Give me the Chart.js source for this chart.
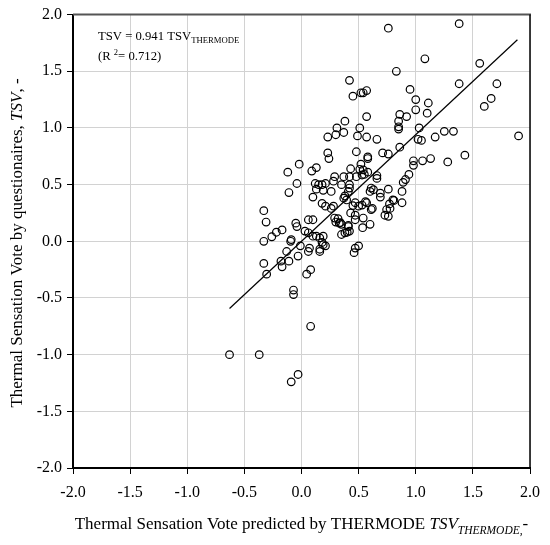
<!DOCTYPE html>
<html>
<head>
<meta charset="utf-8">
<script src="https://cdn.jsdelivr.net/npm/chart.js@4"></script>
<style>
  html, body { margin: 0; padding: 0; background: #fff; }
</style>
</head>
<body>
<canvas id="tsvChart" width="550" height="545"></canvas>
<script>
// predicted (x) and questionnaire (y) thermal sensation votes
const tsvPredicted = [
  0.76, 1.38, 1.08, 0.83, 1.56, 0.42, 1.38, 1.71, 1.66, 1.60, 1.90, 0.95, 1.00, 1.11, 1.00, 1.10,
  0.86, 0.92, 0.85, 0.85, 0.85, 1.03, 0.45, 0.52, 0.54, 0.57, 0.57, 0.38, 0.31, 0.37, 0.30, 0.23,
  0.51, 0.49, 0.57, 0.66, 0.86, 1.02, 1.05, 1.17, 1.25, 1.33, 0.48, 0.23, 0.24, 0.58, 0.58, 0.71,
  0.76, 0.98, 0.98, 1.06, 1.13, 1.28, 1.43, -0.02, -0.12, 0.09, 0.13, 0.52, 0.43, 0.54, 0.58, 0.55,
  0.66, 0.94, 0.89, 0.91, -0.04, 0.12, 0.15, 0.18, 0.21, 0.13, 0.19, 0.26, 0.10, 0.28, 0.29, 0.37,
  0.42, 0.35, 0.42, 0.42, 0.41, 0.48, 0.53, 0.51, 0.61, 0.60, 0.63, 0.69, 0.69, 0.66, 0.76, 0.80,
  0.77, 0.745, 0.76, 0.395, 0.37, 0.38, 0.56, 0.53, 0.47, 0.50, 0.45, 0.61, 0.18, 0.21, 0.26, 0.28,
  0.29, 0.32, 0.34, 0.35, 0.41, 0.43, 0.47, 0.54, 0.535, 0.60, 0.35, 0.38, 0.06, 0.10, -0.05, -0.04,
  0.03, 0.06, 0.10, 0.13, 0.19, 0.19, -0.09, -0.01, 0.07, 0.50, 0.47, -0.31, -0.33, -0.33, -0.26, -0.22,
  -0.17, -0.095, 0.16, 0.18, 0.16, 0.21, 0.06, -0.03, -0.13, -0.11, -0.18, -0.17, -0.33, -0.305, 0.08, 0.045,
  -0.07, -0.07, 0.08, -0.03, -0.09, -0.63, -0.37, 0.46, 0.16, 0.41, 0.40, 0.73, 0.775, 0.81, 0.88, 0.88,
  0.62, 0.47, 0.57, 0.42, 0.30, 0.33, -0.11
];
const tsvVoted = [
  1.88, 1.92, 1.61, 1.50, 1.57, 1.42, 1.39, 1.39, 1.26, 1.19, 0.93, 1.34, 1.25, 1.22, 1.16, 1.13,
  1.12, 1.10, 1.06, 1.01, 0.99, 1.00, 1.28, 1.31, 1.31, 1.33, 1.10, 1.06, 1.00, 0.96, 0.94, 0.92,
  1.00, 0.93, 0.92, 0.90, 0.83, 0.90, 0.89, 0.92, 0.97, 0.97, 0.79, 0.78, 0.73, 0.745, 0.73, 0.78,
  0.77, 0.71, 0.67, 0.71, 0.73, 0.70, 0.76, 0.68, 0.61, 0.62, 0.65, 0.68, 0.64, 0.63, 0.61, 0.59,
  0.58, 0.59, 0.52, 0.545, 0.51, 0.51, 0.50, 0.50, 0.51, 0.46, 0.45, 0.44, 0.39, 0.53, 0.57, 0.57,
  0.57, 0.50, 0.50, 0.47, 0.44, 0.57, 0.585, 0.635, 0.47, 0.44, 0.455, 0.425, 0.39, 0.555, 0.46, 0.365,
  0.33, 0.28, 0.22, 0.365, 0.38, 0.40, 0.35, 0.32, 0.34, 0.31, 0.315, 0.28, 0.335, 0.31, 0.29, 0.31,
  0.205, 0.20, 0.165, 0.15, 0.14, 0.25, 0.19, 0.205, 0.12, 0.15, 0.06, 0.075, 0.19, 0.19, 0.16, 0.13,
  0.09, 0.075, 0.045, 0.045, 0.045, -0.03, 0.015, -0.04, -0.06, -0.04, -0.06, 0.17, 0.27, 0.00, 0.04, 0.08,
  0.10, 0.00, 0.03, -0.01, -0.07, -0.04, -0.09, -0.13, -0.09, -0.175, -0.175, -0.225, -0.195, -0.29, -0.25, -0.29,
  -0.43, -0.47, -0.75, -1.175, -1.24, -1.00, -1.00, -0.10, -0.09, 0.13, 0.08, 0.23, 0.29, 0.36, 0.34, 0.44,
  0.29, 0.23, 0.34, 0.09, 0.17, 0.16, 0.43
];

// fitted line TSV = 0.941 TSV_THERMODE, drawn over the data range
const fitLineX = [-0.63, 1.89];
const fitLineY = [-0.593, 1.778];
const axisTicks = [-2.0, -1.5, -1.0, -0.5, 0.0, 0.5, 1.0, 1.5, 2.0];
const fitSlopeText = "0.941";
const fitR2Text = "0.712";

const SERIF = "'Liberation Serif', 'Times New Roman', serif";

// draws a run of differently styled text pieces one after another
function drawRuns(ctx, runs, x, y) {
  let cx = x;
  runs.forEach(r => {
    ctx.font = r.font;
    ctx.fillText(r.text, cx, y + (r.dy || 0));
    cx += ctx.measureText(r.text).width;
  });
}
function runsWidth(ctx, runs) {
  let w = 0;
  runs.forEach(r => { ctx.font = r.font; w += ctx.measureText(r.text).width; });
  return w;
}

const frameAndText = {
  id: "frameAndText",
  afterDraw(chart) {
    const { ctx, chartArea: a } = chart;
    ctx.save();

    // top + right frame
    ctx.lineWidth = 2;
    ctx.strokeStyle = "#555";
    ctx.beginPath(); ctx.moveTo(a.left, a.top); ctx.lineTo(a.right + 1, a.top); ctx.stroke();
    ctx.lineWidth = 1.5;
    ctx.strokeStyle = "#000";
    ctx.beginPath(); ctx.moveTo(a.right, a.top); ctx.lineTo(a.right, a.bottom); ctx.stroke();

    ctx.fillStyle = "#000";
    ctx.textBaseline = "alphabetic";
    ctx.textAlign = "left";

    // equation text
    drawRuns(ctx, [
      { text: "TSV = " + fitSlopeText + " TSV", font: "12.7px " + SERIF },
      { text: "THERMODE", font: "8.7px " + SERIF, dy: 3.3 }
    ], a.left + 25, 40);
    drawRuns(ctx, [
      { text: "(R ", font: "12.7px " + SERIF },
      { text: "2", font: "8.5px " + SERIF, dy: -5 },
      { text: "= " + fitR2Text + ")", font: "12.7px " + SERIF }
    ], a.left + 25, 59.5);

    // x title
    const xRuns = [
      { text: "Thermal Sensation Vote predicted by THERMODE ", font: "17px " + SERIF },
      { text: "TSV", font: "italic 17px " + SERIF },
      { text: "THERMODE,", font: "italic 11.5px " + SERIF, dy: 5 },
      { text: "-", font: "17px " + SERIF }
    ];
    const xw = runsWidth(ctx, xRuns);
    drawRuns(ctx, xRuns, (a.left + a.right) / 2 - xw / 2, 529);

    // y title
    const yRuns = [
      { text: "Thermal Sensation Vote by questionaires, ", font: "17px " + SERIF },
      { text: "TSV", font: "italic 17px " + SERIF },
      { text: ", -", font: "17px " + SERIF }
    ];
    const yw = runsWidth(ctx, yRuns);
    ctx.translate(22, 243);
    ctx.rotate(-Math.PI / 2);
    drawRuns(ctx, yRuns, -yw / 2, 0);

    ctx.restore();
  }
};

function axisOptions(fit, pad) {
  return {
    type: "linear",
    min: -2,
    max: 2,
    afterBuildTicks: s => { s.ticks = axisTicks.map(v => ({ value: v })); },
    afterFit: fit,
    ticks: {
      callback: v => v.toFixed(1),
      font: { family: SERIF, size: 16 },
      color: "#000",
      padding: pad,
      maxRotation: 0
    },
    grid: { color: "#d2d2d2", lineWidth: 1, tickColor: "#000", tickLength: 6 },
    border: { color: "#000", width: 2 }
  };
}

new Chart(document.getElementById("tsvChart"), {
  type: "scatter",
  data: {
    datasets: [
      {
        label: "TSV",
        data: tsvPredicted.map((x, i) => ({ x: x, y: tsvVoted[i] })),
        pointStyle: "circle",
        pointRadius: 3.8,
        borderColor: "#000",
        borderWidth: 1.2,
        backgroundColor: "rgba(0,0,0,0)"
      },
      {
        label: "fit",
        data: fitLineX.map((x, i) => ({ x: x, y: fitLineY[i] })),
        showLine: true,
        pointRadius: 0,
        borderColor: "#000",
        borderWidth: 1.2,
        fill: false
      }
    ]
  },
  options: {
    responsive: false,
    animation: false,
    layout: { padding: { top: 12, right: 20, left: 0, bottom: 0 } },
    plugins: { legend: { display: false }, tooltip: { enabled: false } },
    scales: {
      x: axisOptions(s => { s.height = 77; }, 9),
      y: axisOptions(s => { s.width = 73; }, 5)
    }
  },
  plugins: [frameAndText]
});
</script>
</body>
</html>
